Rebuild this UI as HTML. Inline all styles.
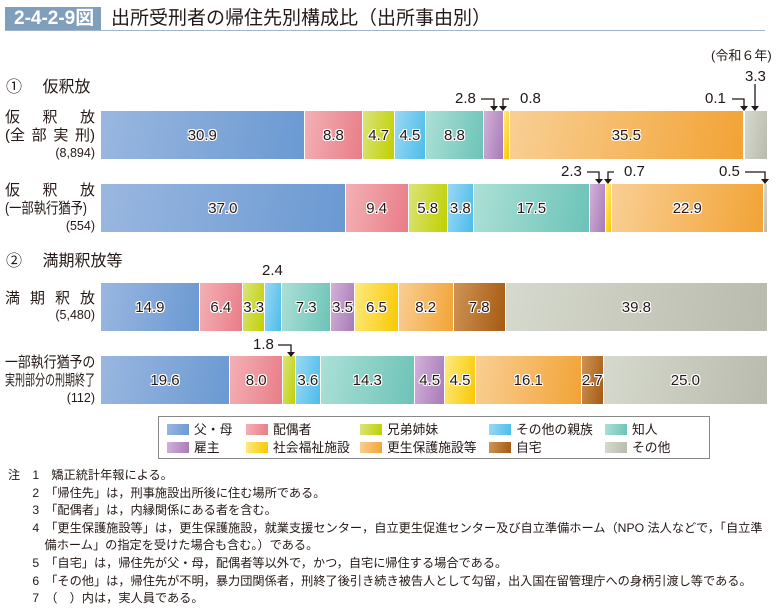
<!DOCTYPE html>
<html><head><meta charset="utf-8"><style>
*{margin:0;padding:0;box-sizing:border-box}
body{width:777px;height:606px;background:#fff;font-family:"Liberation Sans","Noto Sans CJK JP",sans-serif;color:#231815;position:relative;overflow:hidden}
.abs{position:absolute}
.bar{position:absolute;left:101px;width:666px;height:48px;display:flex}
.bar div{flex-basis:0;height:100%;border-right:1px solid #fff;display:flex;align-items:center;justify-content:center;font-size:15px;color:#231815;text-shadow:-1px 0 #fff,1px 0 #fff,0 -1px #fff,0 1px #fff,1px 1px #fff,-1px -1px #fff,1px -1px #fff,-1px 1px #fff;overflow:visible;white-space:nowrap}
.c1{background:linear-gradient(100deg,#9ab7e0,#6a99d2)}
.c2{background:linear-gradient(100deg,#f3b1b5,#e97c87)}
.c3{background:linear-gradient(100deg,#dbe47a,#bfd000)}
.c4{background:linear-gradient(100deg,#9ad8f4,#4cbcea)}
.c5{background:linear-gradient(100deg,#ace0d6,#6cc3b8)}
.c6{background:linear-gradient(100deg,#d2b2d9,#a87ab8)}
.c7{background:linear-gradient(100deg,#feea80,#f9c800)}
.c8{background:linear-gradient(100deg,#f9cf94,#f2a335)}
.c9{background:linear-gradient(100deg,#cf9455,#a55a12)}
.c10{background:linear-gradient(100deg,#d6d9cd,#b8bbad)}
.ln{position:absolute;left:5px;width:90px;font-size:15px;line-height:18px;white-space:nowrap}
.j{display:flex;justify-content:space-between}
.sq{transform-origin:left top}
.num{position:absolute;right:682px;font-size:12.5px;line-height:16px}
.ann{position:absolute;font-size:15px}
.leg{position:absolute;left:158px;top:416px;width:552px;height:43px;border:1px solid #888}
.li{position:absolute;font-size:12.8px;line-height:17px;display:flex;align-items:center;white-space:nowrap}
.li span{display:inline-block;width:22px;height:11px;margin-right:5px}
.notes{position:absolute;left:8px;top:467px;font-size:12.2px;line-height:17.6px}
.notes div{white-space:nowrap}
</style></head><body>
<div class="abs" style="left:5px;top:7px;width:96px;height:24px;background:#7f9fbc;color:#fff;font-weight:bold;font-size:19px;line-height:24px;padding-left:9px">2-4-2-9図</div>
<div class="abs" style="left:111px;top:7px;font-size:19px;line-height:24px">出所受刑者の帰住先別構成比（出所事由別）</div>
<div class="abs" style="left:5px;top:30px;width:760px;height:1px;background:#9fb6cb"></div>
<div class="abs" style="left:711px;top:45px;font-size:13px">(令和６年)</div>
<div class="abs" style="left:6px;top:73px;font-size:16px">①　 仮釈放</div>
<div class="abs" style="left:6px;top:247px;font-size:16px">②　 満期釈放等</div>

<div class="ln j" style="top:109px"><span>仮</span><span>釈</span><span>放</span></div>
<div class="ln j" style="top:127px"><span>(全</span><span>部</span><span>実</span><span>刑)</span></div>
<div class="num" style="top:145px">(8,894)</div>
<div class="ln j" style="top:182px"><span>仮</span><span>釈</span><span>放</span></div>
<div class="ln sq" style="top:200px;transform:scaleX(0.82)">(一部執行猶予)</div>
<div class="num" style="top:218px">(554)</div>
<div class="ln j" style="top:290px"><span>満</span><span>期</span><span>釈</span><span>放</span></div>
<div class="num" style="top:307px">(5,480)</div>
<div class="ln sq" style="top:354px;transform:scaleX(0.86)">一部執行猶予の</div>
<div class="ln sq" style="top:372px;transform:scaleX(0.667)">実刑部分の刑期終了</div>
<div class="num" style="top:390px">(112)</div>

<div class="bar" style="top:111px">
<div class="c1" style="flex-grow:30.9">30.9</div><div class="c2" style="flex-grow:8.8">8.8</div><div class="c3" style="flex-grow:4.7">4.7</div><div class="c4" style="flex-grow:4.5">4.5</div><div class="c5" style="flex-grow:8.8">8.8</div><div class="c6" style="flex-grow:2.8"></div><div class="c7" style="flex-grow:0.8"></div><div class="c8" style="flex-grow:35.5">35.5</div><div class="c9" style="flex-grow:0.1"></div><div class="c10" style="flex-grow:3.3;border:none"></div>
</div>
<div class="bar" style="top:184px">
<div class="c1" style="flex-grow:37.0">37.0</div><div class="c2" style="flex-grow:9.4">9.4</div><div class="c3" style="flex-grow:5.8">5.8</div><div class="c4" style="flex-grow:3.8">3.8</div><div class="c5" style="flex-grow:17.5">17.5</div><div class="c6" style="flex-grow:2.3"></div><div class="c7" style="flex-grow:0.7"></div><div class="c8" style="flex-grow:22.9">22.9</div><div class="c10" style="flex-grow:0.5;border:none"></div>
</div>
<div class="bar" style="top:283px">
<div class="c1" style="flex-grow:14.9">14.9</div><div class="c2" style="flex-grow:6.4">6.4</div><div class="c3" style="flex-grow:3.3">3.3</div><div class="c4" style="flex-grow:2.4"></div><div class="c5" style="flex-grow:7.3">7.3</div><div class="c6" style="flex-grow:3.5">3.5</div><div class="c7" style="flex-grow:6.5">6.5</div><div class="c8" style="flex-grow:8.2">8.2</div><div class="c9" style="flex-grow:7.8">7.8</div><div class="c10" style="flex-grow:39.8;border:none">39.8</div>
</div>
<div class="bar" style="top:356px">
<div class="c1" style="flex-grow:19.6">19.6</div><div class="c2" style="flex-grow:8.0">8.0</div><div class="c3" style="flex-grow:1.8"></div><div class="c4" style="flex-grow:3.6">3.6</div><div class="c5" style="flex-grow:14.3">14.3</div><div class="c6" style="flex-grow:4.5">4.5</div><div class="c7" style="flex-grow:4.5">4.5</div><div class="c8" style="flex-grow:16.1">16.1</div><div class="c9" style="flex-grow:2.7">2.7</div><div class="c10" style="flex-grow:25.0;border:none">25.0</div>
</div>

<div class="ann" style="left:455px;top:90px">2.8</div>
<div class="ann" style="left:520px;top:90px">0.8</div>
<div class="ann" style="left:705px;top:90px">0.1</div>
<div class="ann" style="left:745px;top:68px">3.3</div>
<div class="ann" style="left:561px;top:163px">2.3</div>
<div class="ann" style="left:624px;top:163px">0.7</div>
<div class="ann" style="left:719px;top:163px">0.5</div>
<div class="ann" style="left:262px;top:262px">2.4</div>
<div class="ann" style="left:253px;top:336px">1.8</div>
<svg class="abs" style="left:0;top:0" width="777" height="606" fill="none" stroke="#231815" stroke-width="1.3">
<path d="M481 99h13v9"/><path d="M509 99h-6v9"/><path d="M732 99h12v9"/><path d="M755 84v24"/>
<path d="M587 172h12v9"/><path d="M614 172h-6v9"/><path d="M745 172h20v9"/>
<path d="M278 345h13v9"/>
<g fill="#231815" stroke="none">
<path d="M490 106h8l-4 5z"/><path d="M499 106h8l-4 5z"/><path d="M740 106h8l-4 5z"/><path d="M751 106h8l-4 5z"/>
<path d="M595 179h8l-4 5z"/><path d="M604 179h8l-4 5z"/><path d="M761 179h8l-4 5z"/><path d="M287 352h8l-4 5z"/>
</g></svg>

<div class="leg">
<div class="li" style="left:8px;top:4px"><span class="c1"></span>父・母</div>
<div class="li" style="left:87px;top:4px"><span class="c2"></span>配偶者</div>
<div class="li" style="left:201px;top:4px"><span class="c3"></span>兄弟姉妹</div>
<div class="li" style="left:330px;top:4px"><span class="c4"></span>その他の親族</div>
<div class="li" style="left:446px;top:4px"><span class="c5"></span>知人</div>
<div class="li" style="left:8px;top:22px"><span class="c6"></span>雇主</div>
<div class="li" style="left:87px;top:22px"><span class="c7"></span>社会福祉施設</div>
<div class="li" style="left:201px;top:22px"><span class="c8"></span>更生保護施設等</div>
<div class="li" style="left:330px;top:22px"><span class="c9"></span>自宅</div>
<div class="li" style="left:446px;top:22px"><span class="c10"></span>その他</div>
</div>

<div class="notes">
<div>注　1　矯正統計年報による。</div>
<div>　　2　「帰住先」は，刑事施設出所後に住む場所である。</div>
<div>　　3　「配偶者」は，内縁関係にある者を含む。</div>
<div>　　4　「更生保護施設等」は，更生保護施設，就業支援センター，自立更生促進センター及び自立準備ホーム（NPO 法人などで，「自立準</div>
<div>　　　備ホーム」の指定を受けた場合も含む。）である。</div>
<div>　　5　「自宅」は，帰住先が父・母，配偶者等以外で，かつ，自宅に帰住する場合である。</div>
<div>　　6　「その他」は，帰住先が不明，暴力団関係者，刑終了後引き続き被告人として勾留，出入国在留管理庁への身柄引渡し等である。</div>
<div>　　7　（　）内は，実人員である。</div>
</div>
</body></html>
